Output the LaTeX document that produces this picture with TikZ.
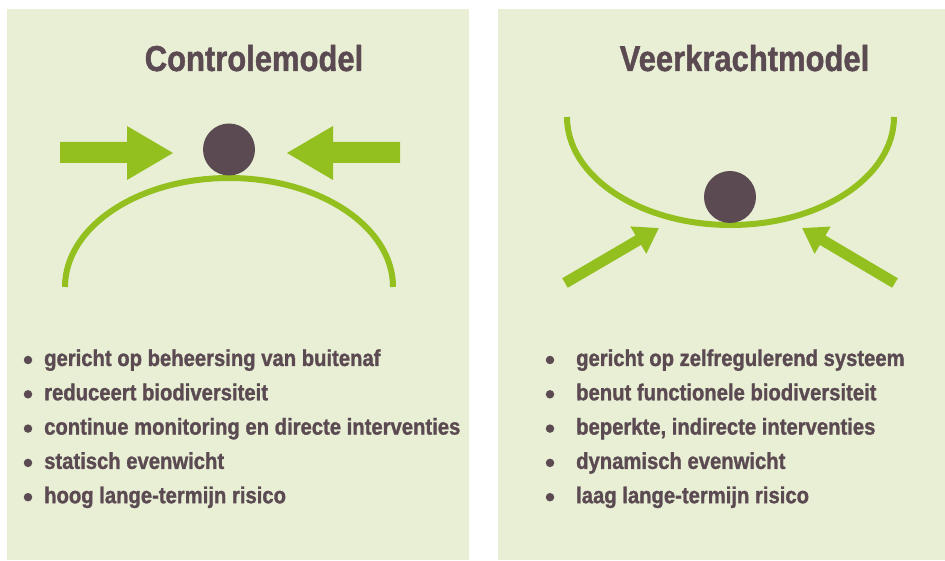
\documentclass[tikz,border=0pt]{standalone}
\usepackage{fontspec}
\usetikzlibrary{arrows.meta}
\newfontfamily\condfont[FakeStretch=0.86,FakeBold=1.2]{Liberation Sans Bold}
\newfontfamily\itemfont[FakeStretch=0.88,FakeBold=1.2]{Liberation Sans Bold}
\definecolor{panelbg}{HTML}{E8EFD4}
\definecolor{leafgreen}{HTML}{93C01F}
\definecolor{darkplum}{HTML}{5B4A52}
\tikzset{
  panel/.style={fill=panelbg, draw=none},
  curve/.style={draw=leafgreen, line width=6pt},
  ball/.style={circle, fill=darkplum, draw=none, minimum size=52pt, inner sep=0pt},
  bigarrow/.style={fill=leafgreen, draw=none},
  slantarrow/.style={draw=leafgreen, line width=11pt, -{Triangle[width=30pt,length=24pt]}},
  titletext/.style={anchor=base, inner sep=0pt, text=darkplum, font=\condfont\fontsize{36}{40}\selectfont},
  itemtext/.style={anchor=base west, inner sep=0pt, text=darkplum, font=\itemfont\fontsize{23}{26}\selectfont},
  bulletdot/.style={circle, fill=darkplum, inner sep=0pt, minimum size=8.5pt}
}
\begin{document}
\begin{tikzpicture}[x=1pt,y=1pt]
\useasboundingbox (0,0) rectangle (945,560);
\fill[white] (0,0) rectangle (945,560);
% panels
\path[panel] (7,0) rectangle (469,551);
\path[panel] (498,0) rectangle (945,551);
% titles
\node[titletext] (t1) at (254,489) {Controlemodel};
\node[titletext] (t2) at (744.5,489) {Veerkrachtmodel};
% left figure
\draw[curve] (65,273) arc[start angle=180, end angle=0, x radius=164, y radius=109];
\node[ball] (b1) at (229,410.5) {};
\path[bigarrow] (60,418) -- (127,418) -- (127,434) -- (173,407) -- (127,380) -- (127,397) -- (60,397) -- cycle;
\path[bigarrow] (400,418) -- (333,418) -- (333,434) -- (287,407) -- (333,380) -- (333,397) -- (400,397) -- cycle;
% right figure
\draw[curve] (567,443) arc[start angle=180, end angle=360, x radius=163.5, y radius=108];
\node[ball] (b2) at (730,363) {};
\coordinate (la) at (565,277);
\coordinate (lb) at (659,332);
\coordinate (ra) at (895,277);
\coordinate (rb) at (802,332);
\draw[slantarrow] (la) -- (lb);
\draw[slantarrow] (ra) -- (rb);
% left list
\foreach \y/\txt [count=\i] in {194/{gericht op beheersing van buitenaf},
  159.7/{reduceert biodiversiteit},
  125.4/{continue monitoring en directe interventies},
  91.1/{statisch evenwicht},
  56.8/{hoog lange-termijn risico}}{
  \node[bulletdot] (lbul\i) at (28,\y+6) {};
  \node[itemtext] (ltx\i) at (44,\y) {\txt};
}
% right list
\foreach \y/\txt [count=\i] in {194/{gericht op zelfregulerend systeem},
  159.7/{benut functionele biodiversiteit},
  125.4/{beperkte, indirecte interventies},
  91.1/{dynamisch evenwicht},
  56.8/{laag lange-termijn risico}}{
  \node[bulletdot] (rbul\i) at (550,\y+6) {};
  \node[itemtext] (rtx\i) at (576,\y) {\txt};
}
\end{tikzpicture}
\end{document}
